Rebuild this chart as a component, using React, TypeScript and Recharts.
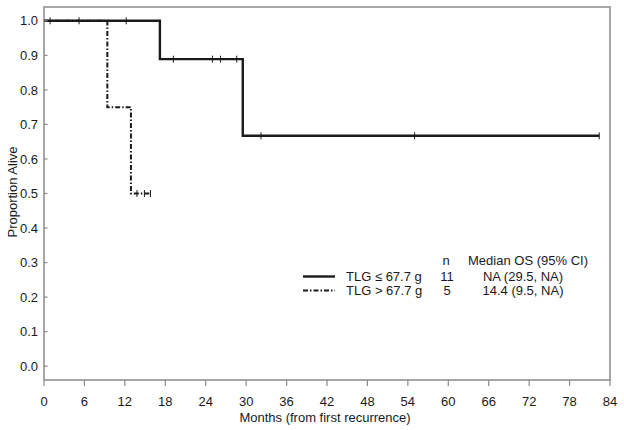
import React from 'react'
import {
  ComposedChart,
  Line,
  Scatter,
  XAxis,
  YAxis,
  ReferenceArea,
  Label,
} from 'recharts'

// Kaplan-Meier overall survival, two TLG groups.

const FONT = '"Liberation Sans", Arial, Helvetica, sans-serif'
const FRAME = '#8a8a8a'
const INK = '#1a1a1a'

// ─── Data ─────────────────────────────────────────────────────────────────────

const MONTH_TICKS = [0, 6, 12, 18, 24, 30, 36, 42, 48, 54, 60, 66, 72, 78, 84]
const PROP_TICKS = [0, 0.1, 0.2, 0.3, 0.4, 0.5, 0.6, 0.7, 0.8, 0.9, 1.0]

// TLG <= 67.7 g
const LOW_STEP_TIMES = [0, 17.2, 29.5]
const LOW_STEP_SURV = [1.0, 0.889, 0.667]
const LOW_LAST_TIME = 82.4
const LOW_CENSOR_TIMES = [0.9, 5.2, 12.2, 19.2, 25.0, 26.2, 28.6, 32.2, 55.0, 82.4]

// TLG > 67.7 g
const HIGH_STEP_TIMES = [0, 9.4, 12.9]
const HIGH_STEP_SURV = [1.0, 0.75, 0.5]
const HIGH_LAST_TIME = 15.8
const HIGH_CENSOR_TIMES = [13.8, 14.9, 15.8]

// Legend table
const GROUP_LABELS = ['TLG ≤ 67.7 g', 'TLG > 67.7 g']
const GROUP_N = ['11', '5']
const GROUP_MEDIAN = ['NA (29.5, NA)', '14.4 (9.5, NA)']

// ─── Helpers ──────────────────────────────────────────────────────────────────

type Pt = { t: number; s: number }

function stepCurve(times: number[], surv: number[], last: number): Pt[] {
  const pts = times.map((t, i) => ({ t, s: surv[i] }))
  pts.push({ t: last, s: surv[surv.length - 1] })
  return pts
}

function survAt(times: number[], surv: number[], t: number): number {
  let s = surv[0]
  times.forEach((tt, i) => {
    if (tt <= t) s = surv[i]
  })
  return s
}

function censorPoints(cens: number[], times: number[], surv: number[]): Pt[] {
  return cens.map((t) => ({ t, s: survAt(times, surv, t) }))
}

const lowCurve = stepCurve(LOW_STEP_TIMES, LOW_STEP_SURV, LOW_LAST_TIME)
const highCurve = stepCurve(HIGH_STEP_TIMES, HIGH_STEP_SURV, HIGH_LAST_TIME)
const lowCensor = censorPoints(LOW_CENSOR_TIMES, LOW_STEP_TIMES, LOW_STEP_SURV)
const highCensor = censorPoints(HIGH_CENSOR_TIMES, HIGH_STEP_TIMES, HIGH_STEP_SURV)

const SOLID = { stroke: INK, strokeWidth: 2.4 }
const DASHDOT = { stroke: INK, strokeWidth: 2, strokeDasharray: '5 2 1.5 2' }

// ─── Pieces ───────────────────────────────────────────────────────────────────

function CensorTick(props: any) {
  const { cx, cy } = props
  if (cx == null || cy == null) return null
  return <line x1={cx} x2={cx} y1={cy - 3.5} y2={cy + 3.5} stroke={INK} strokeWidth={1} />
}

// y ticks point inward
function YTick(props: any) {
  const { x, y, payload } = props
  return (
    <g>
      <line x1={x + 6} x2={x + 9.5} y1={y} y2={y} stroke={FRAME} strokeWidth={1.2} />
      <text x={x} y={y} dy="0.36em" textAnchor="end" fontSize={13} fontFamily={FONT} fill={INK}>
        {Number(payload.value).toFixed(1)}
      </text>
    </g>
  )
}

function LegendTable() {
  const txt = { fontSize: 13, fontFamily: FONT, fill: INK }
  const rowY = [280.5, 294.5]
  const styles = [SOLID, DASHDOT]
  return (
    <svg
      width={624}
      height={430}
      style={{ position: 'absolute', left: 0, top: 0, pointerEvents: 'none' }}
    >
      <text x={446} y={265} textAnchor="middle" {...txt}>n</text>
      <text x={528} y={265} textAnchor="middle" {...txt}>Median OS (95% CI)</text>
      {GROUP_LABELS.map((label, i) => (
        <g key={label}>
          <line x1={303} x2={335} y1={rowY[i] - 4} y2={rowY[i] - 4} {...styles[i]} />
          <text x={346} y={rowY[i]} {...txt}>{label}</text>
          <text x={447} y={rowY[i]} textAnchor="middle" {...txt}>{GROUP_N[i]}</text>
          <text x={523} y={rowY[i]} textAnchor="middle" {...txt}>{GROUP_MEDIAN[i]}</text>
        </g>
      ))}
    </svg>
  )
}

// ─── Chart ────────────────────────────────────────────────────────────────────

export default function App() {
  return (
    <div style={{ position: 'absolute', left: 0, top: 0, width: 624, height: 430, background: '#fff' }}>
      <ComposedChart
        width={624}
        height={430}
        margin={{ top: 7, right: 14, bottom: 0, left: 0 }}
        style={{ fontFamily: FONT }}
      >
        <XAxis
          dataKey="t"
          type="number"
          domain={[0, 84]}
          ticks={MONTH_TICKS}
          interval={0}
          height={50}
          axisLine={false}
          tickSize={6}
          tickMargin={11}
          tickLine={{ stroke: FRAME, strokeWidth: 1.2 }}
          tick={{ fontSize: 13, fill: INK, fontFamily: FONT }}
          allowDataOverflow
        >
          <Label
            content={() => (
              <text x={325} y={422} textAnchor="middle" fontSize={13} fontFamily={FONT} fill={INK}>
                Months (from first recurrence)
              </text>
            )}
          />
        </XAxis>
        <YAxis
          dataKey="s"
          type="number"
          domain={[-0.04, 1.04]}
          ticks={PROP_TICKS}
          interval={0}
          width={44}
          axisLine={false}
          tickLine={false}
          tickSize={0}
          tickMargin={6}
          tick={<YTick />}
          allowDataOverflow
        >
          <Label
            content={() => (
              <text
                x={16.5}
                y={192}
                transform="rotate(-90, 16.5, 192)"
                textAnchor="middle"
                fontSize={13}
                fontFamily={FONT}
                fill={INK}
              >
                Proportion Alive
              </text>
            )}
          />
        </YAxis>

        <ReferenceArea
          x1={0}
          x2={84}
          y1={-0.04}
          y2={1.04}
          fill="none"
          fillOpacity={0}
          stroke={FRAME}
          strokeWidth={1.5}
          ifOverflow="visible"
        />

        <Line
          data={highCurve}
          dataKey="s"
          type="stepAfter"
          dot={false}
          activeDot={false}
          {...DASHDOT}
          isAnimationActive={false}
        />
        <Line
          data={lowCurve}
          dataKey="s"
          type="stepAfter"
          dot={false}
          activeDot={false}
          {...SOLID}
          isAnimationActive={false}
        />
        <Scatter data={lowCensor} dataKey="s" shape={<CensorTick />} isAnimationActive={false} />
        <Scatter data={highCensor} dataKey="s" shape={<CensorTick />} isAnimationActive={false} />
      </ComposedChart>
      <LegendTable />
    </div>
  )
}
